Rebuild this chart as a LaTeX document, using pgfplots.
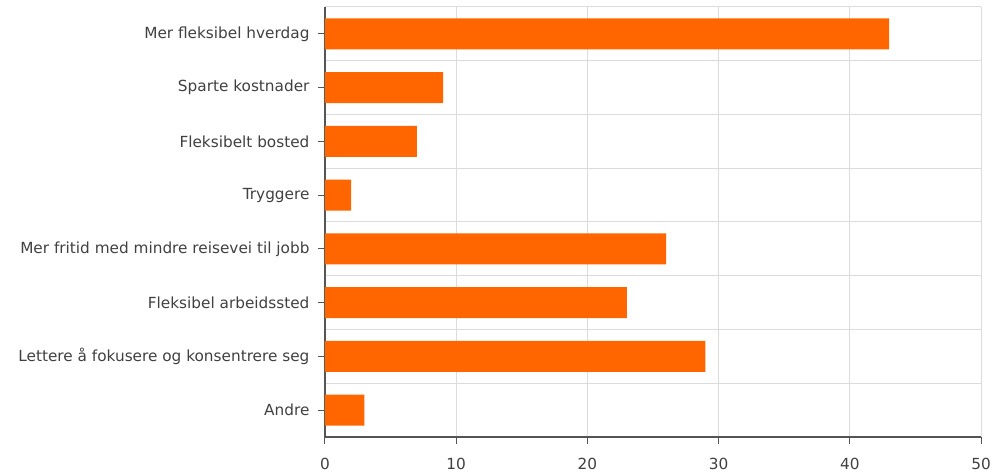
\documentclass[border=0pt]{standalone}
\usepackage{fontspec}
\setmainfont{DejaVu Sans}
\usepackage{pgfplots}
\pgfplotsset{compat=1.18}
\definecolor{barorange}{HTML}{FF6600}
\definecolor{gridgray}{HTML}{DCDCDC}
\definecolor{axisgray}{HTML}{555555}
\definecolor{labelgray}{HTML}{404040}
\begin{document}
\begin{tikzpicture}
\begin{axis}[
  scale only axis,
  width=656pt, height=430pt,
  xbar, bar width=31pt,
  xmin=0, xmax=50,
  ymin=-0.5, ymax=7.5,
  y dir=reverse,
  xtick={0,10,20,30,40,50},
  ytick={0,1,2,3,4,5,6,7},
  yticklabels={Mer fleksibel hverdag,Sparte kostnader,Fleksibelt bosted,Tryggere,Mer fritid med mindre reisevei til jobb,Fleksibel arbeidssted,Lettere å fokusere og konsentrere seg,Andre},
  minor ytick={-0.5,0.5,1.5,2.5,3.5,4.5,5.5,6.5,7.5},
  xmajorgrids, yminorgrids,
  grid style={gridgray, line width=1pt},
  minor grid style={gridgray, line width=1pt},
  axis x line=bottom, axis y line=left,
  axis line style={axisgray, line width=1.2pt, -},
  tick align=outside,
  major tick length=7pt,
  tick style={axisgray, line width=1pt},
  minor tick length=0pt,
  ticklabel style={font=\fontsize{15.3}{17}\selectfont, text=labelgray},
  /pgf/number format/assume math mode=true,
  xticklabel style={yshift=-11pt},
  yticklabel style={xshift=-5pt},
  axis on top=false,
]
\addplot[fill=barorange, draw=none] coordinates {
  (43,0) (9,1) (7,2) (2,3) (26,4) (23,5) (29,6) (3,7)
};
\end{axis}
\path[use as bounding box] ([shift={(-325pt,-35pt)}]current axis.south west) rectangle ([shift={(22pt,7pt)}]current axis.north east);
\end{tikzpicture}
\end{document}
